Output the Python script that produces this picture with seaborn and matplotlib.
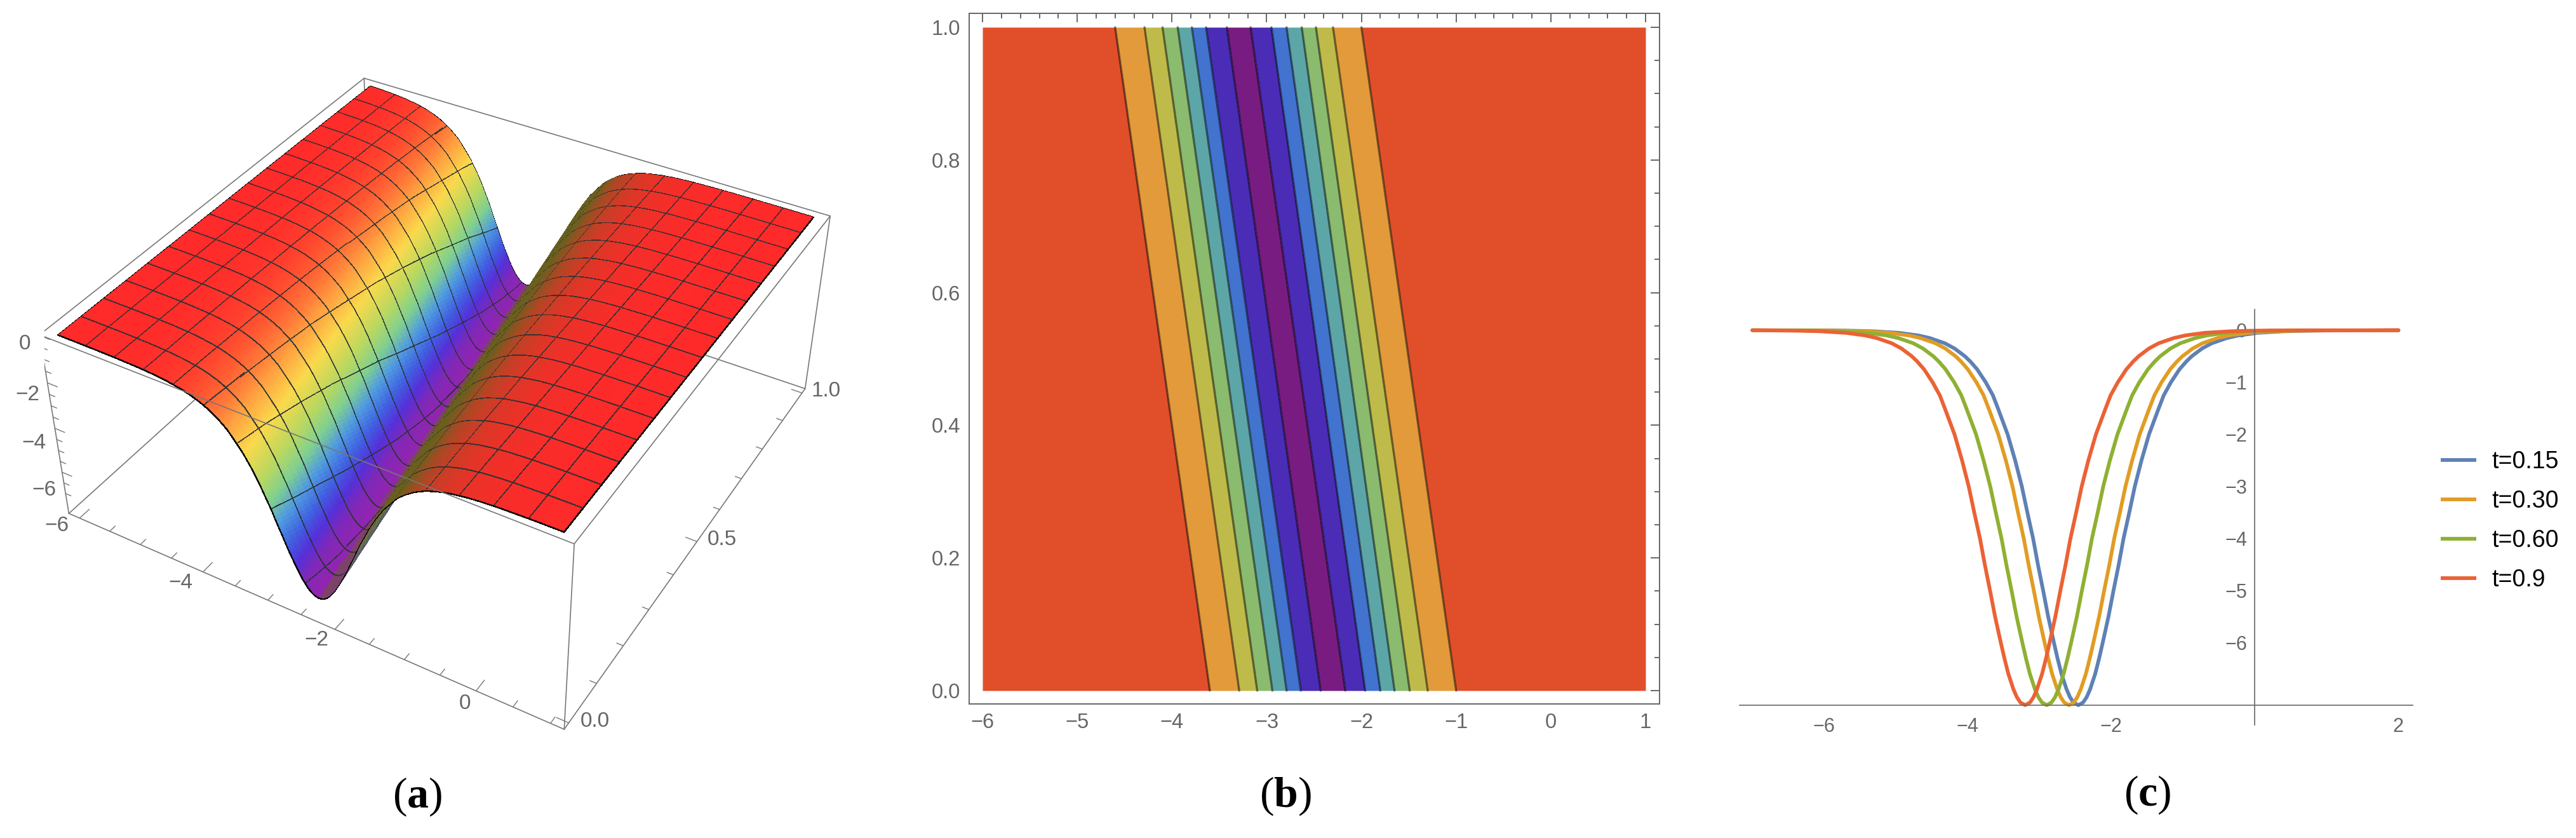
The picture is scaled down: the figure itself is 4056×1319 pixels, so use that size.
import numpy as np
import pandas as pd
import matplotlib
matplotlib.use("Agg")
import matplotlib.pyplot as plt
import seaborn as sns
from matplotlib.colors import LinearSegmentedColormap, to_rgb
from matplotlib.ticker import FixedLocator, NullFormatter

W, H = 4056, 1319

# panel (c): depth levels and curve positions
u_levels = [-0.005, -0.01, -0.02, -0.05, -0.1, -0.15, -0.25, -0.35, -0.5, -0.6, -0.75, -1, -1.25, -1.5, -2, -2.5,
            -3, -3.5, -4, -4.5, -5, -5.5, -6, -6.3, -6.6, -6.9, -7.05, -7.15, -7.2]
t015_left = [-5.87, -5.59, -5.32, -4.96, -4.69, -4.53, -4.32, -4.185, -4.04, -3.965, -3.87, -3.75, -3.65, -3.58,
             -3.445, -3.34, -3.247, -3.17, -3.09, -3.023, -2.95, -2.88, -2.80, -2.75, -2.695, -2.623, -2.575,
             -2.526, -2.46]
t015_right = [-2.394, -2.345, -2.297, -2.225, -2.17, -2.12, -2.04, -1.97, -1.897, -1.83, -1.75, -1.673, -1.58,
              -1.475, -1.34, -1.27, -1.17, -1.05, -0.955, -0.88, -0.735, -0.60, -0.39, -0.23, 0.04, 0.40, 0.67, 0.95]
t030_left = [-6.00, -5.72, -5.45, -5.09, -4.82, -4.66, -4.45, -4.315, -4.17, -4.095, -4.00, -3.88, -3.78, -3.71,
             -3.575, -3.47, -3.377, -3.30, -3.22, -3.153, -3.08, -3.01, -2.93, -2.88, -2.825, -2.753, -2.705,
             -2.656, -2.59]
t030_right = [-2.524, -2.475, -2.427, -2.355, -2.30, -2.25, -2.17, -2.10, -2.027, -1.96, -1.88, -1.803, -1.71,
              -1.605, -1.47, -1.40, -1.30, -1.18, -1.085, -1.01, -0.865, -0.73, -0.52, -0.36, -0.09, 0.27, 0.54, 0.82]
t060_left = [-6.31, -6.03, -5.76, -5.40, -5.13, -4.97, -4.76, -4.625, -4.48, -4.405, -4.31, -4.19, -4.09, -4.02,
             -3.885, -3.78, -3.687, -3.61, -3.53, -3.463, -3.39, -3.32, -3.24, -3.19, -3.135, -3.063, -3.015,
             -2.966, -2.90]
t060_right = [-2.834, -2.785, -2.737, -2.665, -2.61, -2.56, -2.48, -2.41, -2.337, -2.27, -2.19, -2.113, -2.02,
              -1.915, -1.78, -1.71, -1.61, -1.49, -1.395, -1.32, -1.175, -1.04, -0.83, -0.67, -0.40, -0.04, 0.23, 0.51]
t090_left = [-6.61, -6.33, -6.06, -5.70, -5.43, -5.27, -5.06, -4.925, -4.78, -4.705, -4.61, -4.49, -4.39, -4.32,
             -4.185, -4.08, -3.987, -3.91, -3.83, -3.763, -3.69, -3.62, -3.54, -3.49, -3.435, -3.363, -3.315,
             -3.266, -3.20]
t090_right = [-3.134, -3.085, -3.037, -2.965, -2.91, -2.86, -2.78, -2.71, -2.637, -2.57, -2.49, -2.413, -2.32,
              -2.215, -2.08, -2.01, -1.91, -1.79, -1.695, -1.62, -1.475, -1.34, -1.13, -0.97, -0.70, -0.34, -0.07, 0.21]
curve_labels = ["t=0.15", "t=0.30", "t=0.60", "t=0.9"]
curve_colors = ["#5E81B5", "#E19C24", "#8FB032", "#EB6235"]

# panel (b): band edges at t=0 and t=1
edges_t0 = [-3.60, -3.29, -3.10, -2.94, -2.79, -2.64, -2.43, -2.17, -1.96, -1.80, -1.65, -1.49, -1.30, -1.00]
edges_t1 = [-4.60, -4.29, -4.10, -3.94, -3.79, -3.64, -3.42, -3.17, -2.95, -2.79, -2.63, -2.48, -2.30, -2.00]
band_colors = ["#E14F2A", "#E29A3A", "#BFBB4A", "#8ABB6E", "#5DA6A7", "#4173CF", "#4A2CB6", "#781C82",
               "#4A2CB6", "#4173CF", "#5DA6A7", "#8ABB6E", "#BFBB4A", "#E29A3A", "#E14F2A"]

# panel (a): valley position and height colours
valley_t = [0, 1]
valley_x = [-2.30, -3.30]
rainbow_u = [-7.2, -6.7, -6.1, -5.4, -4.6, -3.8, -3.0, -2.0, -1.2, -0.4, 0]
rainbow_colors = ["#9025B0", "#8028B8", "#5530D8", "#4060E0", "#4F9AE0", "#80D090", "#B8D860", "#FAD94C", "#FFA040",
                  "#FF5030", "#FF2A2A"]

GRAY = "#666666"
sns.set_style("white")
plt.rcParams["font.family"] = "Liberation Sans"
plt.rcParams["mathtext.fontset"] = "custom"
plt.rcParams["mathtext.rm"] = "Liberation Serif"
plt.rcParams["mathtext.bf"] = "Liberation Serif:bold"

fig = plt.figure(figsize=(W / 100, H / 100), dpi=100)


def px_axes(x0, y0, x1, y1, **kw):
    return fig.add_axes([x0 / W, 1 - y1 / H, (x1 - x0) / W, (y1 - y0) / H], **kw)


# ---------- (a) ----------
xlo, xhi, tlo, thi, zlo, zhi = -6.18, 1.18, -0.016, 1.016, -7.95, 0.03
ax_a = fig.add_axes([69.7 / W, 104.6 / H, 1249.8 / W, 1249.8 / H], projection="3d")
ax_a.set_xlim(xlo, xhi, view_margin=0)
ax_a.set_ylim(tlo, thi, view_margin=0)
ax_a.set_zlim(zlo, zhi, view_margin=0)
ax_a.set_xticks([])
ax_a.set_yticks([])
ax_a.set_zticks([])
ax_a.set_axis_off()
ax_a.patch.set_visible(False)
ax_a.computed_zorder = False
ax_a.view_init(37.658, -59.653, -0.048)
ax_a.set_proj_type("persp", focal_length=0.444)
ax_a.set_box_aspect((1.0997, 1.1041, 0.4387))

blue_x = np.array([-7.0] + t015_left + t015_right + [2.0])
blue_u = np.array([0.0] + u_levels + u_levels[-2::-1] + [0.0])
offsets = blue_x + 2.46


def centre(tt):
    return np.interp(tt, valley_t, valley_x)


def height(xx, tt):
    return np.interp(xx - centre(tt), offsets, blue_u)


mesh_x = np.linspace(-6, 1, 17)
mesh_t = np.linspace(0, 1, 17)
eps_x, eps_t = 0.008, 0.0016
rim_x, rim_t = 0.011, 0.002
xg = np.unique(np.clip(np.r_[np.linspace(-6, 1, 351), mesh_x - eps_x, mesh_x + eps_x, -6 + rim_x, 1 - rim_x], -6, 1))
tg = np.unique(np.clip(np.r_[np.linspace(0, 1, 61), mesh_t - eps_t, mesh_t + eps_t, rim_t, 1 - rim_t], 0, 1))
X, T = np.meshgrid(xg, tg)
# keep the mesh strips thin where the surface is steep
for m in mesh_x[1:-1]:
    il, ir = np.searchsorted(xg, m - eps_x), np.searchsorted(xg, m + eps_x)
    slope = np.abs(height(m + 0.02, T[:, 0]) - height(m - 0.02, T[:, 0])) / 0.04
    e = eps_x / (1 + 0.25 * slope)
    X[:, il] = m - e
    X[:, ir] = m + e
Z = height(X, T)

xc = (xg[:-1] + xg[1:]) / 2
tc = (tg[:-1] + tg[1:]) / 2
XC, TC = np.meshgrid(xc, tc)
ZC = height(XC, TC)
cmap = LinearSegmentedColormap.from_list(
    "rb", list(zip((np.array(rainbow_u) + 7.2) / 7.2, rainbow_colors)))
fc = cmap((ZC + 7.2) / 7.2)
far = XC - centre(TC) > 0
f = (np.clip(-ZC / 1.3, 0, 1) ** 0.9 * (1 - 0.5 * np.clip((-ZC - 3) / 3, 0, 1)))[..., None]
dark = np.array(to_rgb("#6b5f1e"))
red = np.array(to_rgb("#FF2A2A"))
base = np.where(-ZC[..., None] < 3, red, fc[..., :3])
fc[..., :3] = np.where(far[..., None], base * (1 - f) + dark * f, fc[..., :3])
on_x = np.abs(XC[..., None] - mesh_x).min(-1) < eps_x
on_t = np.abs(TC[..., None] - mesh_t).min(-1) < eps_t
mesh_col = np.array(to_rgb("#2a3233"))
fc[..., :3] = np.where((on_x | on_t)[..., None], fc[..., :3] * 0.08 + mesh_col * 0.92, fc[..., :3])
rim = (XC < -6 + rim_x) | (XC > 1 - rim_x) | (TC < rim_t) | (TC > 1 - rim_t)
fc[..., :3] = np.where(rim[..., None], 0.02, fc[..., :3])
ax_a.plot_surface(X, T, Z, facecolors=fc, rstride=1, cstride=1, shade=False, linewidth=0,
                  antialiased=False, zorder=2)

box_kw = dict(color="#777777", lw=1.2)
for xs, ts, zs in [([xlo, xhi], [thi, thi], [zlo, zlo]), ([xlo, xlo], [tlo, thi], [zlo, zlo]),
                   ([xlo, xlo], [thi, thi], [zlo, zhi])]:
    ax_a.plot(xs, ts, zs, zorder=1, **box_kw)
for xs, ts, zs in [([xlo, xhi], [tlo, tlo], [zlo, zlo]), ([xhi, xhi], [tlo, thi], [zlo, zlo]),
                   ([xlo, xhi], [tlo, tlo], [zhi, zhi]), ([xlo, xhi], [thi, thi], [zhi, zhi]),
                   ([xlo, xlo], [tlo, thi], [zhi, zhi]), ([xhi, xhi], [tlo, thi], [zhi, zhi]),
                   ([xlo, xlo], [tlo, tlo], [zlo, zhi]), ([xhi, xhi], [tlo, tlo], [zlo, zhi]),
                   ([xhi, xhi], [thi, thi], [zlo, zhi])]:
    ax_a.plot(xs, ts, zs, zorder=4, **box_kw)

tick_kw = dict(color="#777777", lw=1.0, zorder=4)
for v in np.arange(-6, 1.01, 0.5):
    ln = 0.028 if v % 2 == 0 else 0.016
    ax_a.plot([v, v], [tlo, tlo + ln], [zlo, zlo], **tick_kw)
for v in np.arange(0, 1.01, 0.1):
    ln = 0.16 if abs(v * 2 - round(v * 2)) < 1e-6 else 0.09
    ax_a.plot([xhi, xhi - ln], [v, v], [zlo, zlo], **tick_kw)
for v in np.arange(-7, 0.01, 0.5):
    ln = 0.16 if v % 2 == 0 else 0.09
    ax_a.plot([xlo, xlo + ln], [tlo, tlo], [v, v], **tick_kw)

# tick labels of the 3d box, placed where the reference has them
for px, py, s in [(89, 827, "\u22126"), (284, 917, "\u22124"), (498, 1007, "\u22122"), (732, 1108, "0"),
                  (937, 1135, "0.0"), (1137, 849, "0.5"), (1301, 616, "1.0"),
                  (39, 542, "0"), (43, 622, "\u22122"), (53, 698, "\u22124"), (69, 772, "\u22126")]:
    fig.text(px / W, 1 - py / H, s, color=GRAY, fontsize=24, ha="center", va="center")

# ---------- (b) ----------
ax_b = px_axes(1526, 21, 2613, 1108)
left_t0 = [-6.0] + edges_t0
right_t0 = edges_t0 + [1.0]
left_t1 = [-6.0] + edges_t1
right_t1 = edges_t1 + [1.0]
for i, col in enumerate(band_colors):
    ax_b.fill_betweenx([0, 1], [left_t0[i], left_t1[i]], [right_t0[i], right_t1[i]], color=col, linewidth=0)
for e0, e1 in zip(edges_t0, edges_t1):
    sns.lineplot(x=[e0, e1], y=[0, 1], sort=False, estimator=None, color="black", alpha=0.5,
                 linewidth=2.4, ax=ax_b, legend=False)
ax_b.set_xlim(-6.141, 1.1475)
ax_b.set_ylim(-0.0201, 1.021)
ax_b.set_xticks(range(-6, 2))
ax_b.set_xticklabels(["\u22126", "\u22125", "\u22124", "\u22123", "\u22122", "\u22121", "0", "1"])
ax_b.set_yticks([0, 0.2, 0.4, 0.6, 0.8, 1.0])
ax_b.set_yticklabels(["0.0", "0.2", "0.4", "0.6", "0.8", "1.0"])
ax_b.xaxis.set_minor_locator(FixedLocator(np.arange(-6, 1.01, 0.2)))
ax_b.yaxis.set_minor_locator(FixedLocator(np.arange(0, 1.01, 0.05)))
ax_b.tick_params(which="major", direction="in", length=10, width=1.4, color=GRAY, labelcolor=GRAY,
                 labelsize=23.5, top=True, right=True, pad=10)
ax_b.tick_params(which="minor", direction="in", length=6, width=1.4, color=GRAY, top=True, right=True)
ax_b.set_xlabel("")
ax_b.set_ylabel("")
for sp in ax_b.spines.values():
    sp.set_color(GRAY)
    sp.set_linewidth(1.4)

# ---------- (c) ----------
ax_c = px_axes(2739, 487, 3799, 1141)
rows = []
for lab, lft, rgt in zip(curve_labels, [t015_left, t030_left, t060_left, t090_left],
                         [t015_right, t030_right, t060_right, t090_right]):
    xs = [-7.0] + lft + rgt + [2.0]
    us = [0.0] + u_levels + u_levels[-2::-1] + [0.0]
    rows.append(pd.DataFrame({"x": xs, "u": us, "t": lab}))
df = pd.concat(rows, ignore_index=True)
sns.lineplot(data=df, x="x", y="u", hue="t", palette=curve_colors, sort=False, estimator=None,
             linewidth=4.2, ax=ax_c)
ax_c.set_xlim(-7.18, 2.2)
ax_c.set_ylim(-7.58, 0.40)
ax_c.set_xlabel("")
ax_c.set_ylabel("")
ax_c.spines["top"].set_visible(False)
ax_c.spines["right"].set_visible(False)
ax_c.spines["left"].set_position(("data", 0))
ax_c.spines["bottom"].set_position(("data", -7.2))
for side in ("left", "bottom"):
    ax_c.spines[side].set_color(GRAY)
    ax_c.spines[side].set_linewidth(1.2)
ax_c.set_xticks([-6, -4, -2, 2])
ax_c.set_xticklabels(["\u22126", "\u22124", "\u22122", "2"])
ax_c.set_yticks([0, -1, -2, -3, -4, -5, -6])
ax_c.set_yticklabels(["0", "\u22121", "\u22122", "\u22123", "\u22124", "\u22125", "\u22126"])
ax_c.xaxis.set_minor_locator(FixedLocator(np.arange(-7, 2.01, 0.5)))
ax_c.xaxis.set_minor_formatter(NullFormatter())
ax_c.yaxis.set_minor_locator(FixedLocator(np.arange(-7, 0.41, 0.2)))
ax_c.tick_params(axis="x", which="major", direction="in", length=9, width=1.2, color=GRAY, labelcolor=GRAY,
                 labelsize=22, pad=14)
ax_c.tick_params(axis="x", which="minor", direction="in", length=5, width=1.2, color=GRAY)
ax_c.tick_params(axis="y", which="major", direction="out", length=8, width=1.2, color=GRAY, labelcolor=GRAY,
                 labelsize=22, pad=1)
ax_c.tick_params(axis="y", which="minor", direction="out", length=5, width=1.2, color=GRAY)
handles, labels = ax_c.get_legend_handles_labels()
leg = ax_c.legend(handles, labels, frameon=False, loc="center left", bbox_to_anchor=(3843 / W, 1 - 820 / H),
                  bbox_transform=fig.transFigure, borderpad=0, borderaxespad=0, fontsize=27, handlelength=1.5,
                  handletextpad=0.63, labelspacing=0.69, labelcolor="black")
for hd in leg.legend_handles:
    hd.set_solid_capstyle("butt")

# ---------- captions ----------
for cx, cy, s in [(657, 1254, r"($\mathbf{a}$)"), (2024, 1253, r"($\mathbf{b}$)"), (3381, 1251, r"($\mathbf{c}$)")]:
    fig.text(cx / W, 1 - cy / H, s, family="Liberation Serif", fontsize=49, ha="center", va="center", color="black")

fig.savefig("out.png", dpi=100)
